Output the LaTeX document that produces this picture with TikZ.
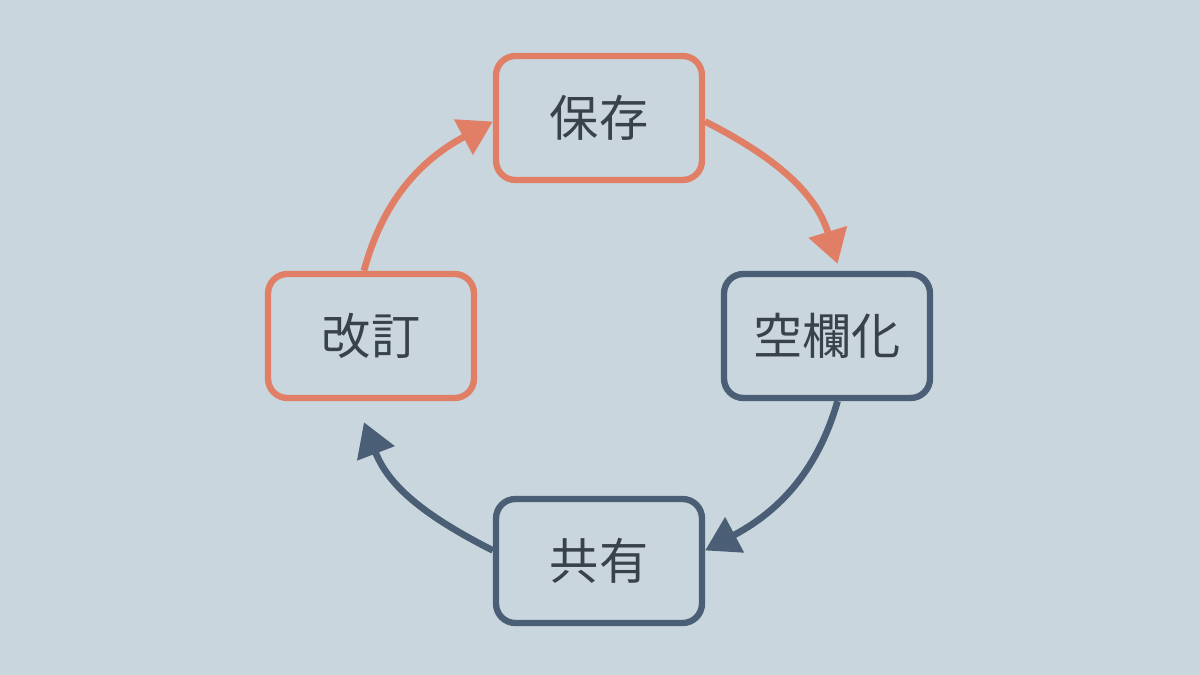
\documentclass[tikz,border=0pt]{standalone}
\usepackage{fontspec}
\newfontfamily\cjk{Noto Sans CJK JP}
\usetikzlibrary{arrows.meta, positioning}
\definecolor{bgcol}{HTML}{C9D6DD}
\definecolor{warm}{HTML}{E07F66}
\definecolor{cool}{HTML}{4A5E75}
\definecolor{ink}{HTML}{38424D}
\tikzset{%
	step box/.style={
		draw,
		line width=3.6pt,
		rounded corners=11pt,
		fill=bgcol,
		minimum width=4.12cm,
		minimum height=2.48cm,
		text=ink,
		font=\cjk\fontsize{28}{32}\selectfont
	},
	cycle arrow/.style={
		line width=3.8pt,
		-{Triangle[length=19pt,width=22pt]}
	},
}
\begin{document}
\begin{tikzpicture}[x=0.02cm,y=-0.02cm]
	% background
	\fill[bgcol] (0,0) rectangle (1200,675);
	\useasboundingbox (0,0) rectangle (1200,675);

	% the four steps
	\node[step box, draw=warm] (hozon) at (599,118) {保存};
	\node[step box, draw=cool] (kuran) at (827,336) {空欄化};
	\node[step box, draw=cool] (kyoyu) at (599,561) {共有};
	\node[step box, draw=warm] (kaitei) at (371,336) {改訂};

	% the arrows round the cycle
	\draw[cycle arrow, warm] ([yshift=-2pt]hozon.east) to[out=-27,in=107] ([xshift=6pt,yshift=4pt]kuran.north);
	\draw[cycle arrow, cool] ([xshift=6pt]kuran.south) to[out=-106,in=28] ([yshift=6pt]kyoyu.east);
	\draw[cycle arrow, cool] ([yshift=6pt]kyoyu.west) to[out=153,in=-69] ([xshift=-4pt,yshift=-12pt]kaitei.south);
	\draw[cycle arrow, warm] ([xshift=-4pt]kaitei.north) to[out=75,in=208] ([yshift=-2pt]hozon.west);
\end{tikzpicture}
\end{document}
